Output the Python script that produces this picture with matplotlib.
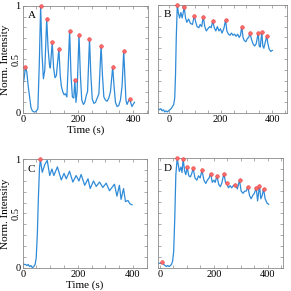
import matplotlib
matplotlib.use("Agg")
import matplotlib.pyplot as plt
import numpy as np

plt.rcParams['font.family'] = ['Liberation Serif', 'DejaVu Serif']

# ---------------- data ----------------
tA = [0, 5, 10, 15, 20, 25, 30, 35, 40, 45, 50, 55, 60, 65, 70, 75, 80, 87, 92, 97,
      100, 107, 112, 117, 122, 131, 136, 140, 145, 150, 155, 160, 165, 170, 175, 180,
      185, 189, 193, 197, 204, 209, 214, 220, 225, 230, 235, 242, 247, 252, 258, 264,
      270, 276, 284, 289, 294, 300, 306, 312, 318, 326, 331, 336, 342, 348, 354, 360,
      366, 370, 374, 378, 383, 388, 392, 396, 400, 405]
vA = [0.24, 0.32, 0.43, 0.38, 0.25, 0.15, 0.05, 0.02, 0.01, 0.01, 0.02, 0.04, 0.45,
      1.0, 0.55, 0.32, 0.40, 0.88, 0.60, 0.45, 0.42, 0.66, 0.42, 0.33, 0.35, 0.60,
      0.35, 0.25, 0.20, 0.17, 0.18, 0.15, 0.45, 0.77, 0.35, 0.15, 0.14, 0.31, 0.10,
      0.20, 0.73, 0.35, 0.12, 0.08, 0.10, 0.16, 0.20, 0.69, 0.35, 0.13, 0.09, 0.10,
      0.14, 0.18, 0.63, 0.35, 0.15, 0.12, 0.11, 0.14, 0.20, 0.43, 0.25, 0.10, 0.06,
      0.07, 0.12, 0.25, 0.58, 0.35, 0.12, 0.08, 0.11, 0.13, 0.09, 0.06, 0.08, 0.10]
pkA_t = [10, 65, 87, 107, 131, 170, 189, 204, 242, 284, 326, 366, 388]
pkA_v = [0.43, 1.0, 0.88, 0.66, 0.60, 0.77, 0.31, 0.73, 0.69, 0.63, 0.43, 0.58, 0.13]

tB = [-43, -38, -33, -28, -23, -18, -13, -8, -3, 2, 7, 12, 17, 21, 24, 27, 31, 35, 40,
      45, 50, 58, 63, 68, 75, 82, 90, 97, 103, 108, 115, 120, 126, 132, 138, 144, 150,
      157, 163, 169, 175, 181, 187, 193, 199, 205, 212, 219, 224, 230, 236, 242, 248,
      254, 260, 266, 272, 277, 282, 287, 292, 298, 304, 309, 314, 320, 326, 332, 338,
      346, 350, 354, 360, 364, 368, 374, 379, 384, 389, 395, 401]
vB = [0.04, 0.03, 0.04, 0.02, 0.03, 0.01, 0.02, 0.01, 0.02, 0.03, 0.04, 0.06, 0.08,
      0.14, 0.35, 0.70, 1.0, 0.93, 0.88, 0.93, 0.88, 0.98, 0.88, 0.84, 0.87, 0.83,
      0.82, 0.90, 0.84, 0.80, 0.79, 0.82, 0.80, 0.89, 0.80, 0.76, 0.78, 0.80, 0.79,
      0.85, 0.79, 0.76, 0.80, 0.76, 0.78, 0.74, 0.78, 0.86, 0.76, 0.73, 0.72, 0.74,
      0.72, 0.73, 0.71, 0.73, 0.70, 0.72, 0.80, 0.70, 0.67, 0.66, 0.69, 0.70, 0.74,
      0.68, 0.64, 0.62, 0.64, 0.74, 0.62, 0.61, 0.75, 0.62, 0.60, 0.66, 0.71, 0.64,
      0.59, 0.57, 0.58]
pkB_t = [31, 58, 97, 132, 169, 219, 282, 314, 346, 360, 379]
pkB_v = [1.0, 0.98, 0.90, 0.89, 0.85, 0.86, 0.80, 0.74, 0.74, 0.75, 0.71]

tC = [0, 5, 10, 15, 20, 25, 30, 35, 40, 45, 49, 53, 57, 61, 64, 71, 80, 89, 98, 106,
      113, 126, 140, 150, 158, 170, 182, 194, 204, 212, 225, 237, 245, 257, 267, 279,
      291, 303, 315, 333, 342, 351, 357, 366, 373, 382, 389, 397]
vC = [0.04, 0.03, 0.03, 0.02, 0.03, 0.01, 0.02, 0.00, 0.01, 0.03, 0.09, 0.30, 0.65,
      0.92, 1.0, 0.88, 0.95, 0.99, 0.85, 0.91, 0.85, 0.93, 0.81, 0.87, 0.82, 0.89,
      0.79, 0.85, 0.80, 0.86, 0.76, 0.82, 0.73, 0.80, 0.75, 0.79, 0.74, 0.78, 0.71,
      0.77, 0.66, 0.76, 0.63, 0.73, 0.61, 0.62, 0.59, 0.58]
pkC_t = [64]
pkC_v = [1.0]

tD = [-4, 0, 4, 9, 14, 19, 24, 29, 34, 39, 43, 47, 51, 55, 59, 64, 72, 78, 82, 86, 92,
      96, 101, 107, 113, 118, 123, 130, 137, 143, 149, 156, 163, 170, 176, 182, 188,
      194, 200, 205, 211, 218, 224, 230, 237, 243, 248, 254, 260, 266, 272, 280, 287,
      295, 301, 308, 314, 320, 326, 332, 338, 344, 350, 357, 362, 369, 374, 379, 384,
      390, 397, 403]
vD = [0.04, 0.04, 0.04, 0.05, 0.03, 0.02, 0.01, 0.02, 0.01, 0.02, 0.03, 0.06, 0.15,
      0.45, 0.85, 1.0, 0.88, 0.92, 0.87, 0.99, 0.88, 0.85, 0.92, 0.84, 0.83, 0.86,
      0.91, 0.82, 0.80, 0.84, 0.82, 0.89, 0.80, 0.77, 0.80, 0.82, 0.86, 0.78, 0.80,
      0.78, 0.84, 0.76, 0.74, 0.78, 0.86, 0.78, 0.77, 0.73, 0.75, 0.73, 0.75, 0.76,
      0.72, 0.80, 0.70, 0.68, 0.70, 0.70, 0.74, 0.66, 0.63, 0.66, 0.68, 0.73, 0.61,
      0.75, 0.63, 0.66, 0.72, 0.63, 0.59, 0.58]
pkD_t = [9, 64, 86, 101, 123, 156, 188, 211, 237, 248, 280, 295, 326, 357, 369, 384]
pkD_v = [0.05, 1.0, 0.99, 0.92, 0.91, 0.89, 0.86, 0.84, 0.86, 0.77, 0.76, 0.80,
         0.74, 0.73, 0.75, 0.72]

panels = [
    ("A", tA, vA, pkA_t, pkA_v, [0.078, 0.6117, 0.4316, 0.3677], (0, 455), True, True),
    ("B", tB, vB, pkB_t, pkB_v, [0.544, 0.6117, 0.4412, 0.3711], (-43, 457), False, False),
    ("C", tC, vC, pkC_t, pkC_v, [0.078, 0.0801, 0.4261, 0.3725], (0, 450), True, True),
    ("D", tD, vD, pkD_t, pkD_v, [0.544, 0.0801, 0.4302, 0.3760], (-6, 458), False, False),
]

line_color = '#2f8bd8'
box_color = '#8a8a8a'

fig = plt.figure(figsize=(2.91, 2.91), dpi=100)
for letter, t, v, pt, pv, pos, xl, ylab, xlab in panels:
    ax = fig.add_axes(pos)
    ax.plot(t, v, color=line_color, lw=0.9)
    ax.plot(pt, pv, 'o', ms=2.6, mfc='#ff6b6b', mec='#e53a3a', mew=0.4,
            clip_on=False, zorder=5)
    ax.set_xlim(*xl)
    ax.set_ylim(0, 1)
    xt = np.arange(0, 451, 50)
    ax.set_xticks(xt, [str(x) if x in (0, 200, 400) else '' for x in xt])
    yt = np.round(np.arange(0, 1.01, 0.1), 1)
    if ylab:
        ax.set_yticks(yt, ['0' if y == 0 else ('0.5' if y == 0.5 else ('1' if y == 1 else '')) for y in yt])
        for lbl in ax.get_yticklabels():
            if lbl.get_text() == '0.5':
                lbl.set_rotation(90)
                lbl.set_va('center')
        ax.set_ylabel('Norm. Intensity', fontsize=8, labelpad=1)
    else:
        ax.set_yticks(yt, ['' for y in yt])
    if xlab:
        ax.set_xlabel('Time (s)', fontsize=8, labelpad=1)
    ax.tick_params(direction='in', top=True, right=True, length=2, width=0.5,
                   color=box_color, labelsize=7.5, pad=1.5)
    for s in ax.spines.values():
        s.set_color(box_color)
        s.set_linewidth(0.6)
    ax.text(0.04, 0.95, letter, transform=ax.transAxes, fontsize=8, va='top', ha='left')

fig.savefig('out.png', dpi=100)
